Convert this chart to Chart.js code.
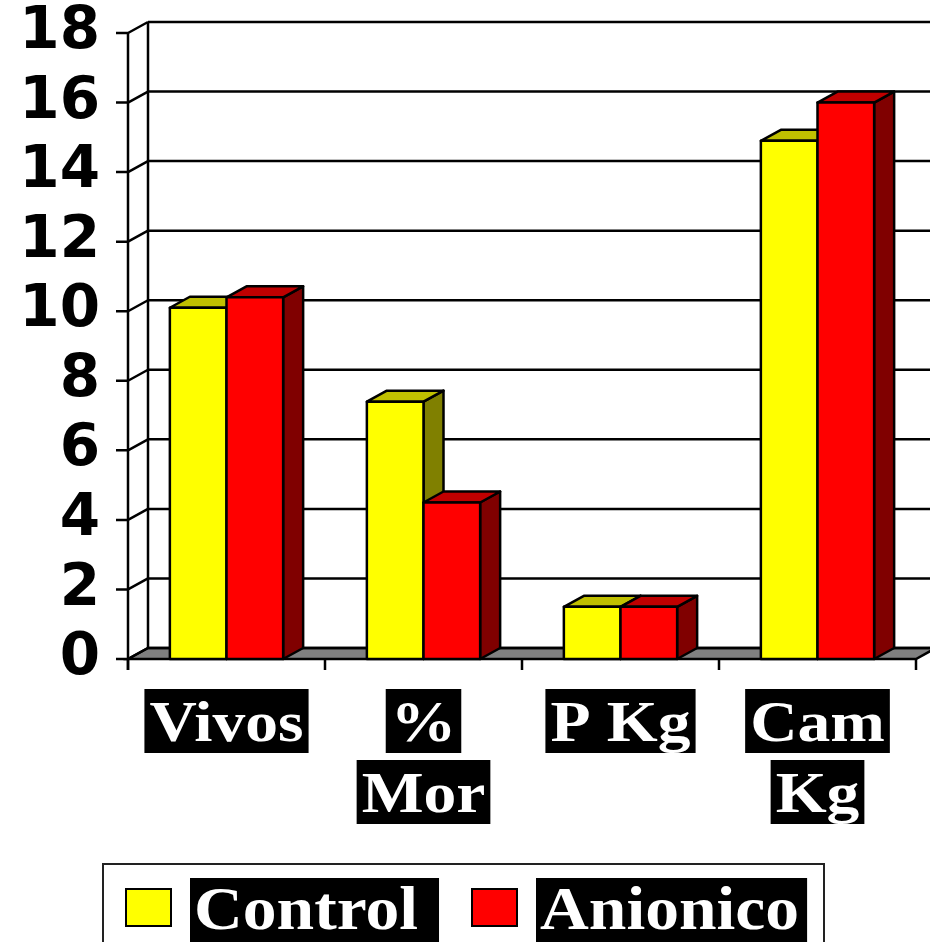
<!DOCTYPE html>
<html>
<head>
<meta charset="utf-8">
<script src="https://cdn.jsdelivr.net/npm/chart.js@4.4.0/dist/chart.umd.min.js"></script>
<style>
  html, body { margin: 0; padding: 0; background: #fff; }
</style>
</head>
<body>
<canvas id="myChart" width="930" height="942"></canvas>
<script>
const categories = [["Vivos"], ["%", "Mor"], ["P Kg"], ["Cam", "Kg"]];
const controlValues = [10.1, 7.4, 1.5, 14.9];
const anionicoValues = [10.4, 4.5, 1.5, 16.0];
const yMin = 0;
const yMax = 18;
const yStep = 2;

// 3d look
const DX = 20;
const DY = -11;
const faces = [
  { front: "#FFFF00", top: "#C0C000", side: "#808000" },
  { front: "#FF0000", top: "#C00000", side: "#800000" },
];

function poly(ctx, pts, fill) {
  ctx.beginPath();
  ctx.moveTo(pts[0][0], pts[0][1]);
  for (let i = 1; i < pts.length; i++) ctx.lineTo(pts[i][0], pts[i][1]);
  ctx.closePath();
  if (fill) {
    ctx.fillStyle = fill;
    ctx.fill();
  }
  ctx.stroke();
}

// white text stretched a bit sideways, like the original slide font
function wideText(ctx, txt, x, y, sx) {
  ctx.save();
  ctx.translate(x, y);
  ctx.scale(sx, 1);
  ctx.fillText(txt, 0, 0);
  ctx.restore();
}

const box3d = {
  id: "box3d",
  beforeDatasetsDraw(chart) {
    const ctx = chart.ctx;
    const { left, right, bottom } = chart.chartArea;
    const y = chart.scales.y;
    ctx.save();
    ctx.strokeStyle = "#000";
    ctx.lineWidth = 2.5;
    ctx.lineCap = "butt";

    // floor
    poly(ctx, [[left, bottom], [right, bottom], [right + DX, bottom + DY], [left + DX, bottom + DY]], "#808080");

    // back wall + side wall lines
    for (let v = yMin; v <= yMax; v += yStep) {
      const py = y.getPixelForValue(v);
      ctx.beginPath();
      ctx.moveTo(left + DX, py + DY);
      ctx.lineTo(chart.width + 5, py + DY);
      ctx.moveTo(left, py);
      ctx.lineTo(left + DX, py + DY);
      // tick on front axis
      ctx.moveTo(left - 12, py);
      ctx.lineTo(left, py);
      ctx.stroke();
    }
    const topY = y.getPixelForValue(yMax);
    ctx.beginPath();
    ctx.moveTo(left + DX, topY + DY);
    ctx.lineTo(left + DX, bottom + DY);
    ctx.moveTo(left, topY);
    ctx.lineTo(left, bottom + 11);
    ctx.stroke();

    // category ticks
    const n = categories.length;
    const cw = (right - left) / n;
    ctx.beginPath();
    for (let i = 0; i <= n; i++) {
      const px = left + i * cw;
      ctx.moveTo(px, bottom);
      ctx.lineTo(px, bottom + 11);
    }
    ctx.stroke();
    ctx.restore();
  },
  afterDatasetsDraw(chart) {
    const ctx = chart.ctx;
    ctx.save();
    ctx.strokeStyle = "#000";
    ctx.lineWidth = 2.5;
    ctx.lineJoin = "round";
    for (let i = 0; i < categories.length; i++) {
      chart.data.datasets.forEach((ds, d) => {
        const el = chart.getDatasetMeta(d).data[i];
        const c = faces[d];
        const l = el.x - el.width / 2;
        const r = el.x + el.width / 2;
        const t = el.y;
        const b = el.base;
        poly(ctx, [[r, t], [r + DX, t + DY], [r + DX, b + DY], [r, b]], c.side);
        poly(ctx, [[l, t], [l + DX, t + DY], [r + DX, t + DY], [r, t]], c.top);
        poly(ctx, [[l, t], [r, t], [r, b], [l, b]], c.front);
      });
    }
    ctx.restore();
  },
  afterDraw(chart) {
    const ctx = chart.ctx;
    const { bottom } = chart.chartArea;
    const x = chart.scales.x;
    ctx.save();

    // category labels, white on black boxes
    ctx.font = "bold 58px 'Liberation Serif'";
    ctx.textAlign = "left";
    ctx.textBaseline = "alphabetic";
    const sx = 1.13;
    categories.forEach((lines, i) => {
      const cx = x.getPixelForValue(i);
      lines.forEach((txt, j) => {
        const w = ctx.measureText(txt).width * sx;
        const boxW = w + 10;
        const boxTop = bottom + 30 + j * 71;
        ctx.fillStyle = "#000";
        ctx.fillRect(cx - boxW / 2, boxTop, boxW, 64);
        ctx.fillStyle = "#fff";
        wideText(ctx, txt, cx - w / 2, boxTop + 52, sx);
      });
    });

    // legend
    ctx.strokeStyle = "#222";
    ctx.lineWidth = 2;
    ctx.strokeRect(103, 864, 721, 90);
    const items = [
      { sq: 126, txt: 194, pad: 21 },
      { sq: 472, txt: 540, pad: 8 },
    ];
    ctx.font = "bold 62px 'Liberation Serif'";
    const lx = 1.09;
    chart.data.datasets.forEach((ds, d) => {
      const it = items[d];
      ctx.fillStyle = faces[d].front;
      ctx.strokeStyle = "#000";
      ctx.fillRect(it.sq, 889, 45, 37);
      ctx.strokeRect(it.sq, 889, 45, 37);
      const w = ctx.measureText(ds.label).width * lx;
      ctx.fillStyle = "#000";
      ctx.fillRect(it.txt - 4, 878, w + 4 + it.pad, 70);
      ctx.fillStyle = "#fff";
      wideText(ctx, ds.label, it.txt, 929, lx);
    });
    ctx.restore();
  },
};

const ctx = document.getElementById("myChart").getContext("2d");
const myChart = new Chart(ctx, {
  type: "bar",
  data: {
    labels: categories,
    datasets: [
      {
        label: "Control",
        data: controlValues,
        backgroundColor: faces[0].front,
        borderColor: "#000",
        borderWidth: 2,
      },
      {
        label: "Anionico",
        data: anionicoValues,
        backgroundColor: faces[1].front,
        borderColor: "#000",
        borderWidth: 2,
      },
    ],
  },
  options: {
    responsive: false,
    devicePixelRatio: 1,
    animation: false,
    layout: {
      padding: { top: 33, right: 14, bottom: 283, left: 0 },
    },
    datasets: {
      bar: { barPercentage: 1, categoryPercentage: 0.575 },
    },
    scales: {
      x: {
        display: false,
      },
      y: {
        min: yMin,
        max: yMax,
        grid: { display: false, drawTicks: false },
        border: { display: false },
        ticks: {
          stepSize: yStep,
          padding: 28,
          color: "#000",
          font: { family: "'DejaVu Sans'", weight: "bold", size: 58, lineHeight: 1 },
        },
        afterFit(scale) {
          scale.width = 128;
          scale.paddingTop = 0;
          scale.paddingBottom = 0;
        },
      },
    },
    plugins: {
      legend: { display: false },
      tooltip: { enabled: false },
    },
  },
  plugins: [box3d],
});
</script>
</body>
</html>
